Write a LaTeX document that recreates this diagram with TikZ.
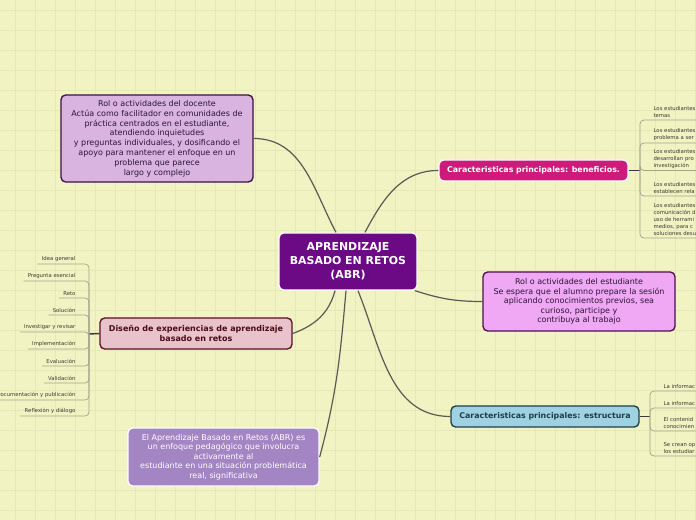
\documentclass[tikz,border=0pt]{standalone}
\usepackage{fontspec}
\setmainfont{DejaVu Sans}
\definecolor{bg}{HTML}{F2F3C3}
\definecolor{gridc}{HTML}{E6E9B6}
\definecolor{linkgray}{HTML}{5A5A55}
\definecolor{brkgray}{HTML}{A3A38C}
\definecolor{stubc}{HTML}{3A3A3A}
\definecolor{itemtext}{HTML}{3A3A35}
\definecolor{docfill}{HTML}{D9B4E1}
\definecolor{docline}{HTML}{3B1048}
\definecolor{doctext}{HTML}{2A1535}
\definecolor{cfill}{HTML}{6C0A86}
\definecolor{benfill}{HTML}{CD1B7B}
\definecolor{stufill}{HTML}{F0A8F4}
\definecolor{stuline}{HTML}{4A1050}
\definecolor{estrfill}{HTML}{9ED2E0}
\definecolor{estrline}{HTML}{1F3C4A}
\definecolor{disfill}{HTML}{E8C3CB}
\definecolor{disline}{HTML}{5B0F22}
\definecolor{distext}{HTML}{4A0A18}
\definecolor{abrfill}{HTML}{A385C3}
\begin{document}
\begin{tikzpicture}[x=0.75pt,y=-0.75pt,
  box/.style={draw, rounded corners=3.5pt, align=center, inner sep=0pt, line width=1pt},
  conn/.style={draw=linkgray, line width=0.9pt},
  stub/.style={draw=stubc, line width=1.1pt},
  brk/.style={draw=brkgray, line width=0.55pt, rounded corners=3pt},
  litem/.style={font=\fontsize{4}{5.2}\selectfont, text=itemtext, inner xsep=1pt, inner ysep=1.3pt, align=right},
  ritem/.style={font=\fontsize{4}{5.25}\selectfont, text=itemtext, inner xsep=1pt, inner ysep=1.3pt, align=left}]
\clip (0,0) rectangle (696,520);
\fill[bg] (0,0) rectangle (696,520);
\foreach \x in {15,35,...,695} \draw[gridc, line width=0.5pt] (\x,0) -- (\x,520);
\foreach \y in {10,30,...,510} \draw[gridc, line width=0.5pt] (0,\y) -- (696,\y);

% main nodes
\node[box, fill=docfill, draw=docline, text=doctext, minimum width=144pt, minimum height=65.25pt,
  font=\fontsize{6}{7.35}\selectfont] (doc) at (157,138.5)
  {Rol o actividades del docente\\Actúa como facilitador en comunidades de\\práctica centrados en el estudiante,\\atendiendo inquietudes\\y preguntas individuales, y dosificando el\\apoyo para mantener el enfoque en un\\problema que parece\\largo y complejo};
\node[box, fill=cfill, draw=white, text=white, minimum width=103.5pt, minimum height=42.75pt,
  font=\fontsize{8.2}{10.5}\selectfont\bfseries] (c) at (348,261.5)
  {APRENDIZAJE\\BASADO EN RETOS\\(ABR)};
\node[box, fill=benfill, draw=white, text=white, minimum width=141.75pt, minimum height=15.75pt,
  font=\fontsize{5.9}{7}\selectfont\bfseries] (ben) at (533.5,170.5)
  {Caracteristicas principales: beneficios.};
\node[box, fill=stufill, draw=stuline, text=doctext, minimum width=144pt, minimum height=44.25pt,
  font=\fontsize{6}{7.2}\selectfont] (stu) at (579,301.5)
  {Rol o actividades del estudiante\\Se espera que el alumno prepare la sesión\\aplicando conocimientos previos, sea\\curioso, participe y\\contribuya al trabajo};
\node[box, fill=estrfill, draw=estrline, text=estrline, minimum width=141pt, minimum height=15.75pt,
  font=\fontsize{5.9}{7}\selectfont\bfseries] (estr) at (545,416.5)
  {Caracteristicas principales: estructura};
\node[box, fill=disfill, draw=disline, text=distext, minimum width=144pt, minimum height=23.25pt,
  font=\fontsize{6}{7.2}\selectfont\bfseries] (dis) at (196,333.5)
  {Diseño de experiencias de aprendizaje\\basado en retos};
\node[box, fill=abrfill, draw=white, text=white, minimum width=143.25pt, minimum height=43.5pt,
  font=\fontsize{6}{7.2}\selectfont] (abr) at (223.5,457)
  {El Aprendizaje Basado en Retos (ABR) es\\un enfoque pedagógico que involucra\\activamente al\\estudiante en una situación problemática\\real, significativa};

% connectors from the centre
\draw[conn] ([xshift=-9pt]c.north) to[out=118,in=0] (doc.east);
\draw[conn] ([xshift=12.75pt]c.north) to[out=62,in=180] (ben.west);
\draw[conn] ([xshift=-2pt]c.south east) to[out=-18,in=180] (stu.west);
\draw[conn] ([xshift=7.5pt]c.south) to[out=-68,in=180] (estr.west);
\draw[conn] ([xshift=-1.5pt]c.south) to[out=-95,in=75] (abr.east);
\draw[conn] ([xshift=-9.75pt]c.south) to[out=-105,in=20] (dis.east);

% right top list
\coordinate (bj) at (640,170.5);
\draw[stub] (ben.east) -- (bj);
\foreach \yy/\txt in {120/{Los estudiantes\\temas},
                      143/{Los estudiantes\\problema a ser},
                      170.5/{Los estudiantes\\desarrollan pro\\investigación},
                      196/{Los estudiantes\\establecen rela},
                      238/{Los estudiantes\\comunicación d\\uso de herrami\\medios, para c\\soluciones desu}} {
  \node[ritem, anchor=south west] (rt) at (652,\yy) {\txt};
  \draw[brk] (bj) |- (700,\yy);
}

% right bottom list
\coordinate (ej) at (650,416.5);
\draw[stub] (estr.east) -- (ej);
\foreach \yy/\txt in {391/{La informac},
                      408/{La informac},
                      431/{El contenid\\conocimien},
                      456/{Se crean op\\los estudiar}} {
  \node[ritem, anchor=south west] (rb) at (662,\yy) {\txt};
  \draw[brk] (ej) |- (700,\yy);
}

% left list
\coordinate (lj) at (89,334);
\draw[stub] (dis.west) -- (lj);
\foreach \yy/\txt in {264/Idea general, 281/Pregunta esencial, 298/Reto, 315/Solución,
                      332/Investigar y revisar, 349/Implementación, 366/Evaluación,
                      383/Validación, 400/Documentación y publicación, 416/Reflexión y diálogo} {
  \node[litem, anchor=south east] (lt) at (77,\yy) {\txt};
  \draw[brk] (lj) |- ([xshift=-2pt]lt.south west);
}
\end{tikzpicture}
\end{document}
